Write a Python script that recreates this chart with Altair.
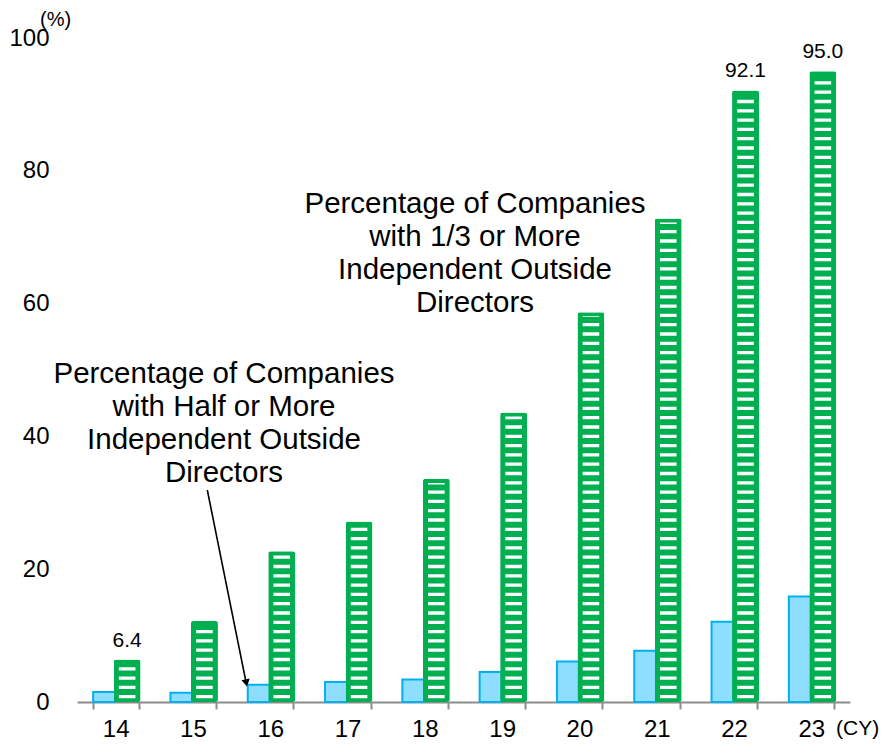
import altair as alt
import pandas as pd

# ---- data ----
years = ["14", "15", "16", "17", "18", "19", "20", "21", "22", "23"]
half_or_more = [1.5, 1.4, 2.6, 3.0, 3.4, 4.5, 6.1, 7.7, 12.1, 15.9]
third_or_more = [6.4, 12.2, 22.7, 27.2, 33.6, 43.6, 58.7, 72.8, 92.1, 95.0]
label_years = ["14", "22", "23"]
label_values = [6.4, 92.1, 95.0]
label_texts = ["6.4", "92.1", "95.0"]
y_ticks = [0, 20, 40, 60, 80, 100]
note_third = ["Percentage of Companies", "with 1/3 or More", "Independent Outside", "Directors"]
note_half = ["Percentage of Companies", "with Half or More", "Independent Outside", "Directors"]
series_order = ["half", "third"]

df = pd.DataFrame({
    "year": years * 2,
    "series": ["half"] * len(years) + ["third"] * len(years),
    "value": half_or_more + third_or_more,
})
lab_df = pd.DataFrame({"year": label_years, "series": ["third"] * len(label_years),
                       "value": label_values, "txt": label_texts})

FONT = "Liberation Sans"
GREEN = "#00B050"
AXIS_GREY = "#8C8C8C"

X = alt.X("year:N", sort=years,
          scale=alt.Scale(paddingInner=0.405, paddingOuter=0.2025),
          axis=alt.Axis(title=None, labelAngle=0, labelFontSize=24, labelColor="black",
                        labelFont=FONT, tickBand="extent", domainColor=AXIS_GREY,
                        domainWidth=2, tickColor=AXIS_GREY, tickWidth=2, tickSize=7,
                        labelPadding=8))
XO = alt.XOffset("series:N", sort=series_order,
                 scale=alt.Scale(domain=series_order, paddingInner=0, paddingOuter=0))
yscale = alt.Scale(domain=[0, 100], nice=False)
yaxis = alt.Axis(title=None, values=y_ticks, grid=False, domain=False, ticks=False,
                 tickSize=0, labelFontSize=24, labelColor="black", labelFont=FONT,
                 labelPadding=28)
Y = alt.Y("value:Q", scale=yscale, axis=yaxis)

base = alt.Chart(df)

blue = base.transform_filter("datum.series == 'half'").mark_bar(
    width=22, fill="#8EDFFF", stroke="#00B0F0", strokeWidth=2
).encode(x=X, xOffset=XO, y=Y)

green = base.transform_filter("datum.series == 'third'").mark_bar(
    width=27, fill=GREEN, cornerRadius=2.5
).encode(x=X, xOffset=XO, y=Y)

stripes = base.transform_filter("datum.series == 'third'").transform_calculate(
    lo="0.55", hi="datum.value - 0.6"
).mark_rule(color="white", strokeWidth=16.6, strokeDash=[3.3, 6.0], strokeCap="butt").encode(
    x=X, xOffset=XO,
    y=alt.Y("lo:Q", scale=yscale, axis=yaxis),
    y2="hi:Q",
)

labels = alt.Chart(lab_df).mark_text(
    fontSize=21, font=FONT, color="black", baseline="alphabetic", align="center", dy=-13
).encode(x=X, xOffset=XO, y=Y, text="txt:N")

one = pd.DataFrame({"k": [0]})
note1 = alt.Chart(one).mark_text(
    text=note_third, fontSize=29.5, font=FONT, color="black", align="center",
    baseline="alphabetic", lineHeight=33
).encode(x=alt.value(398), y=alt.value(175))
note2 = alt.Chart(one).mark_text(
    text=note_half, fontSize=29.5, font=FONT, color="black", align="center",
    baseline="alphabetic", lineHeight=33
).encode(x=alt.value(147), y=alt.value(345))

cy = alt.Chart(one).mark_text(
    text="(CY)", fontSize=21, font=FONT, color="black", align="left", baseline="middle"
).encode(x=alt.value(759), y=alt.value(691))
pct = alt.Chart(one).mark_text(
    text="(%)", fontSize=20, font=FONT, color="black", align="left", baseline="middle"
).encode(x=alt.value(-37), y=alt.value(-18))

arrow_line = alt.Chart(one).mark_rule(color="black", strokeWidth=1.6).encode(
    x=alt.value(130.3), y=alt.value(452), x2=alt.value(168.8), y2=alt.value(643)
)
arrow_head = alt.Chart(one).mark_point(
    shape="triangle-up", angle=168.6, size=70, filled=True, color="black", opacity=1
).encode(x=alt.value(169.3), y=alt.value(645))

chart = alt.layer(blue, green, stripes, labels, note1, note2, cy, pct, arrow_line, arrow_head).properties(
    width=773, height=664,
    autosize=alt.AutoSizeParams(type="none"),
    padding={"left": 69, "top": 30, "right": 29, "bottom": 45},
).configure(font=FONT).configure_view(stroke=None)

chart.save("out.html", embed_options={"renderer": "svg", "actions": False})
